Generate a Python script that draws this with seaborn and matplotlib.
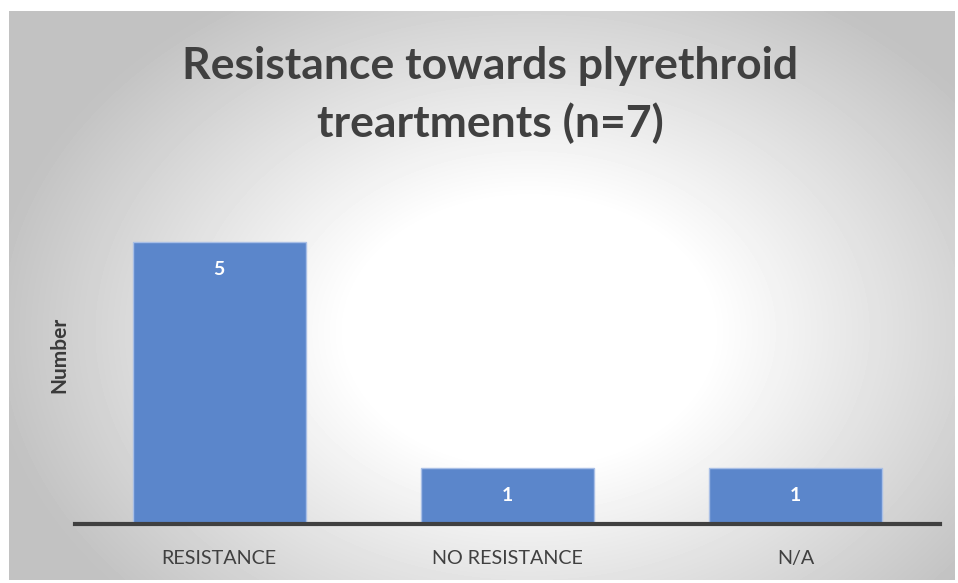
import numpy as np
import pandas as pd
import matplotlib
matplotlib.use("Agg")
import matplotlib.pyplot as plt
import seaborn as sns

categories = ["RESISTANCE", "NO RESISTANCE", "N/A"]
counts = [5, 1, 1]
title = "Resistance towards plyrethroid\ntreartments (n=7)"
y_label = "Number"

sns.set_theme(style="white")
plt.rcParams["font.family"] = ["Lato", "DejaVu Sans"]

W, H = 958, 583
fig = plt.figure(figsize=(W / 100, H / 100), dpi=100)
fig.patch.set_facecolor("white")

# ── radial grey→white background panel ─────────────────────────────────────
bg = fig.add_axes([9 / W, 3 / H, 946 / W, 569 / H], zorder=0)
yy, xx = np.mgrid[0:569, 0:946]
r = np.sqrt(((xx - 520) / 520) ** 2 + ((yy - 320) / 380) ** 2)
shade = np.clip(1.0 - 0.26 * np.clip(r - 0.35, 0, None) / 0.75, 0.76, 1.0)
bg.imshow(shade, cmap="gray", vmin=0, vmax=1, aspect="auto", interpolation="bilinear")
bg.set_axis_off()

# ── bar chart ──────────────────────────────────────────────────────────────
ax = fig.add_axes([75 / W, (H - 524) / H, 865 / W, (524 - 186) / H], zorder=1)
ax.patch.set_alpha(0)
df = pd.DataFrame({"category": categories, "count": counts})
sns.barplot(data=df, x="category", y="count", color="#5B86CB", saturation=1,
            width=0.6, edgecolor="#A9BFE6", linewidth=1.0, ax=ax)

for bar, v in zip(ax.patches, counts):
    ax.text(bar.get_x() + bar.get_width() / 2, bar.get_height() - 0.49, str(v),
            ha="center", va="center", color="white", fontsize=14, fontweight="bold")

ax.set_ylim(0, 6)
ax.set_xlim(-0.5, 2.5)
ax.set_yticks([])
ax.set_xlabel("")
ax.set_ylabel(y_label, fontsize=15, fontweight="bold", color="#3a3a3a", labelpad=4)
ax.tick_params(axis="x", length=0, pad=19, labelsize=14.2, labelcolor="#404040")
for s in ["top", "right", "left"]:
    ax.spines[s].set_visible(False)
ax.spines["bottom"].set_color("#404040")
ax.spines["bottom"].set_linewidth(3)

fig.text(490 / W, 1 - 95 / H, title, ha="center", va="center", fontsize=32,
         fontweight="bold", color="#404040", linespacing=1.45)

fig.savefig("out.png", dpi=100)
